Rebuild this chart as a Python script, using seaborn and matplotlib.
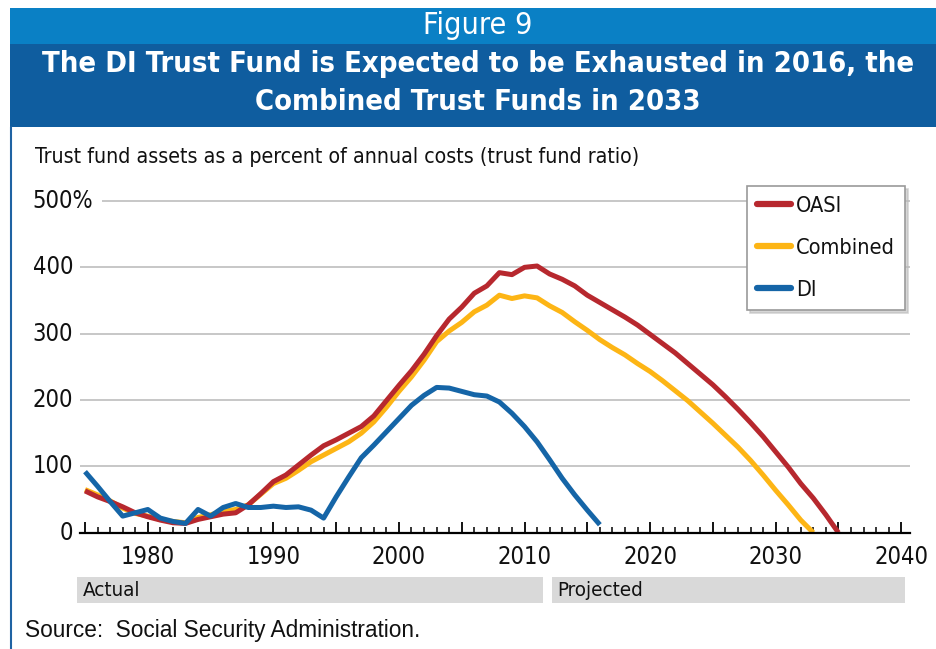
import os
import matplotlib
matplotlib.use("Agg")
import matplotlib.pyplot as plt
import matplotlib.transforms as mtransforms
from matplotlib.patches import Rectangle
from matplotlib.lines import Line2D
from matplotlib.ticker import MultipleLocator, FuncFormatter, NullFormatter
from matplotlib import font_manager
from matplotlib.font_manager import FontProperties
import pandas as pd
import seaborn as sns

# ---- data: trust fund ratio (assets as % of annual cost) ----
oasi_years = list(range(1975, 2036))
oasi = [63, 54, 47, 39, 30, 24, 19, 15, 14, 20,
        24, 28, 30, 42, 59, 77, 87, 102, 117, 131,
        140, 150, 160, 176, 199, 222, 244, 269, 297, 322,
        340, 361, 372, 392, 389, 400, 402, 390, 382, 372,
        358, 347, 336, 325, 313, 299, 285, 271, 255, 239,
        223, 205, 186, 166, 145, 122, 99, 74, 52, 27,
        0]

combined_years = list(range(1975, 2034))
combined = [65, 57, 48, 37, 29, 25, 20, 17, 15, 23,
            27, 32, 35, 42, 58, 74, 82, 94, 107, 117,
            127, 137, 150, 167, 189, 213, 235, 260, 288, 304,
            317, 333, 343, 358, 353, 357, 354, 342, 332, 318,
            305, 291, 279, 268, 255, 243, 229, 214, 199, 182,
            165, 147, 129, 109, 87, 64, 42, 19, 0]

di_years = list(range(1975, 2017))
di = [92, 70, 47, 25, 30, 35, 22, 17, 14, 35,
      25, 38, 44, 38, 38, 40, 38, 39, 34, 22,
      54, 84, 113, 132, 152, 172, 192, 207, 219, 218,
      213, 208, 206, 197, 180, 160, 137, 110, 82, 57,
      34, 12]

fund_names = ["OASI", "Combined", "DI"]
fund_colors = {"OASI": "#B7282E", "Combined": "#FDB515", "DI": "#1565A7"}
y_ticks = [0, 100, 200, 300, 400, 500]
x_tick_labels = [1980, 1990, 2000, 2010, 2020, 2030, 2040]
last_actual_year = 2011

title_top = "Figure 9"
title_main = ["The DI Trust Fund is Expected to be Exhausted in 2016, the",
              "Combined Trust Funds in 2033"]
subtitle = "Trust fund assets as a percent of annual costs (trust fund ratio)"
source = "Source:  Social Security Administration."

df = pd.concat([
    pd.DataFrame({"Year": oasi_years, "Ratio": oasi, "Fund": "OASI"}),
    pd.DataFrame({"Year": combined_years, "Ratio": combined, "Fund": "Combined"}),
    pd.DataFrame({"Year": di_years, "Ratio": di, "Fund": "DI"}),
], ignore_index=True)

# ---- fonts: a narrow sans face for the chart, a regular one for the source ----
sns.set_theme(style="white")
entries = font_manager.fontManager.ttflist


def pick_narrow():
    prefs = ["liberationsansnarrow-regular", "dejavusanscondensed.", "notosans-condensed",
             "opensans-condensed", "opensans_condensed", "roboto-condensed", "robotocondensed"]
    for p in prefs:
        for f in entries:
            if os.path.basename(f.fname).lower().replace(" ", "").startswith(p):
                return f
    for f in entries:
        n = os.path.basename(f.fname).lower()
        if ("condensed" in n or "narrow" in n) and f.style == "normal" and \
           f.weight in (400, "normal", "regular") and "serif" not in n and "mono" not in n:
            return f
    return None


def find_file(*basenames):
    for b in basenames:
        for f in entries:
            if os.path.basename(f.fname).lower() == b:
                return f.fname
    return None


narrow = pick_narrow()
if narrow is not None:
    plt.rcParams["font.family"] = [narrow.name, "DejaVu Sans"]
    plt.rcParams["font.stretch"] = narrow.stretch
else:
    plt.rcParams["font.family"] = ["Roboto", "DejaVu Sans"]

regular_file = find_file("liberationsans-regular.ttf", "arimo-regular.ttf")
if regular_file:
    SOURCE_FONT = dict(fontproperties=FontProperties(fname=regular_file))
else:
    SOURCE_FONT = dict(family=["Liberation Sans", "DejaVu Sans"], fontstretch="normal")
INK = "#111111"

W, H = 936, 649
fig = plt.figure(figsize=(W / 100, H / 100), dpi=100)
fig.patch.set_facecolor("white")
renderer = fig.canvas.get_renderer()


def fx(px):
    return px / W


def fy(py):
    return 1 - py / H


def text_width(text, size, **kw):
    t = fig.text(0, 0, text, **kw)
    t.set_fontsize(size)
    w = t.get_window_extent(renderer).width
    t.remove()
    return w


def size_for(text, target_px, **kw):
    return 20 * target_px / text_width(text, 20, **kw)


# header bands
fig.patches.append(Rectangle((fx(10), fy(44)), fx(W - 10), (44 - 8) / H,
                             transform=fig.transFigure, facecolor="#0A80C5",
                             edgecolor="none", zorder=0))
fig.patches.append(Rectangle((fx(10), fy(127)), fx(W - 10), (127 - 44) / H,
                             transform=fig.transFigure, facecolor="#0F5D9F",
                             edgecolor="none", zorder=0))
# left frame rule
fig.add_artist(Line2D([fx(11), fx(11)], [fy(127), 0], transform=fig.transFigure,
                      color="#1F63A3", linewidth=1.5))

fig.text(fx(478), fy(25), title_top, color="white",
         fontsize=size_for(title_top, 109), ha="center", va="center")
head_size = size_for(title_main[0], 873, fontweight="bold")
fig.text(fx(478), fy(64), title_main[0], color="white", fontsize=head_size,
         fontweight="bold", ha="center", va="center")
fig.text(fx(478), fy(102), title_main[1], color="white", fontsize=head_size,
         fontweight="bold", ha="center", va="center")
fig.text(fx(35), fy(157), subtitle, color=INK,
         fontsize=size_for(subtitle, 602), ha="left", va="center")
src = fig.text(fx(25), fy(630), source, color=INK, ha="left", va="center",
               **SOURCE_FONT)
src.set_fontsize(size_for(source, 395, **SOURCE_FONT))

tick_size = size_for("1980", 52) * 1.04
legend_size = size_for("Combined", 99)
band_size = size_for("Projected", 86)

# ---- plot area ----
ax_left, ax_right, ax_bottom, ax_top = 80, 910, 532.7, 185
px_per_unit = (532.7 - 201) / 500
ax = fig.add_axes([fx(ax_left), fy(ax_bottom), (ax_right - ax_left) / W,
                   (ax_bottom - ax_top) / H])
ax.set_facecolor("none")

ax.set_xlim(1974.6, 2040.7)
ax.set_ylim(0, (ax_bottom - ax_top) / px_per_unit)

for v in y_ticks[1:]:
    start = (102 - ax_left) / (ax_right - ax_left) if v == y_ticks[-1] else 0
    ax.axhline(v, xmin=start, xmax=1, color="#BDBDBD", linewidth=1.2, zorder=1)

sns.lineplot(data=df, x="Year", y="Ratio", hue="Fund",
             hue_order=["Combined", "OASI", "DI"], palette=fund_colors,
             linewidth=3.6, errorbar=None, legend=False, ax=ax, zorder=3)
for ln in ax.lines:
    ln.set_solid_capstyle("butt")
    ln.set_solid_joinstyle("round")

for s in ["top", "right", "left"]:
    ax.spines[s].set_visible(False)
ax.spines["bottom"].set_color("black")
ax.spines["bottom"].set_linewidth(1.6)
ax.spines["bottom"].set_zorder(4)

ax.xaxis.set_major_locator(MultipleLocator(5))
ax.xaxis.set_minor_locator(MultipleLocator(1))
ax.xaxis.set_major_formatter(FuncFormatter(
    lambda v, p: f"{int(round(v))}" if int(round(v)) in x_tick_labels else ""))
ax.tick_params(axis="x", which="major", direction="in", length=8, width=1.3,
               color="black", labelsize=tick_size, pad=8.5, labelcolor=INK,
               bottom=True)
ax.tick_params(axis="x", which="minor", direction="in", length=4, width=1.1,
               color="black", bottom=True)

# y labels: numbers right-aligned on one edge, the % sign hangs past it
ax.set_yticks(y_ticks)
ax.yaxis.set_major_formatter(NullFormatter())
ax.tick_params(axis="y", length=0)
ylab = mtransforms.blended_transform_factory(fig.transFigure, ax.transData)
num_edge = 73
for v in y_ticks:
    if v == y_ticks[-1]:
        x0 = num_edge - text_width(f"{v}", tick_size)
        ax.text(fx(x0), v, f"{v}%", transform=ylab, fontsize=tick_size,
                color=INK, ha="left", va="center")
    else:
        ax.text(fx(num_edge), v, f"{v}", transform=ylab, fontsize=tick_size,
                color=INK, ha="right", va="center")
ax.set_xlabel("")
ax.set_ylabel("")

# legend
fs_px = legend_size * 100 / 72
handles = [Line2D([], [], color=fund_colors[n], linewidth=4.5) for n in fund_names]
leg = ax.legend(handles, fund_names, loc="upper left",
                bbox_to_anchor=(fx(747), fy(186)), bbox_transform=fig.transFigure,
                frameon=True, fancybox=False, shadow={"color": "#BBBBBB", "alpha": 0.6},
                edgecolor="#9A9A9A", fontsize=legend_size,
                handlelength=34 / fs_px, handletextpad=5 / fs_px,
                labelspacing=22 / fs_px, borderpad=10 / fs_px,
                borderaxespad=0)
leg.get_frame().set_linewidth(1.2)
for t in leg.get_texts():
    t.set_color(INK)

# actual / projected bands below the axis
band = mtransforms.blended_transform_factory(ax.transData, fig.transFigure)
bands = [("Actual", 1974.4, last_actual_year + 0.5),
         ("Projected", last_actual_year + 1.2, 2040.3)]
for label, x0, x1 in bands:
    ax.add_patch(Rectangle((x0, fy(603)), x1 - x0, (603 - 577) / H, transform=band,
                           facecolor="#D9D9D9", edgecolor="none", clip_on=False))
    ax.text(x0 + 0.4, fy(590), label, transform=band, fontsize=band_size,
            color=INK, ha="left", va="center")

fig.savefig("out.png", dpi=100, facecolor="white")
